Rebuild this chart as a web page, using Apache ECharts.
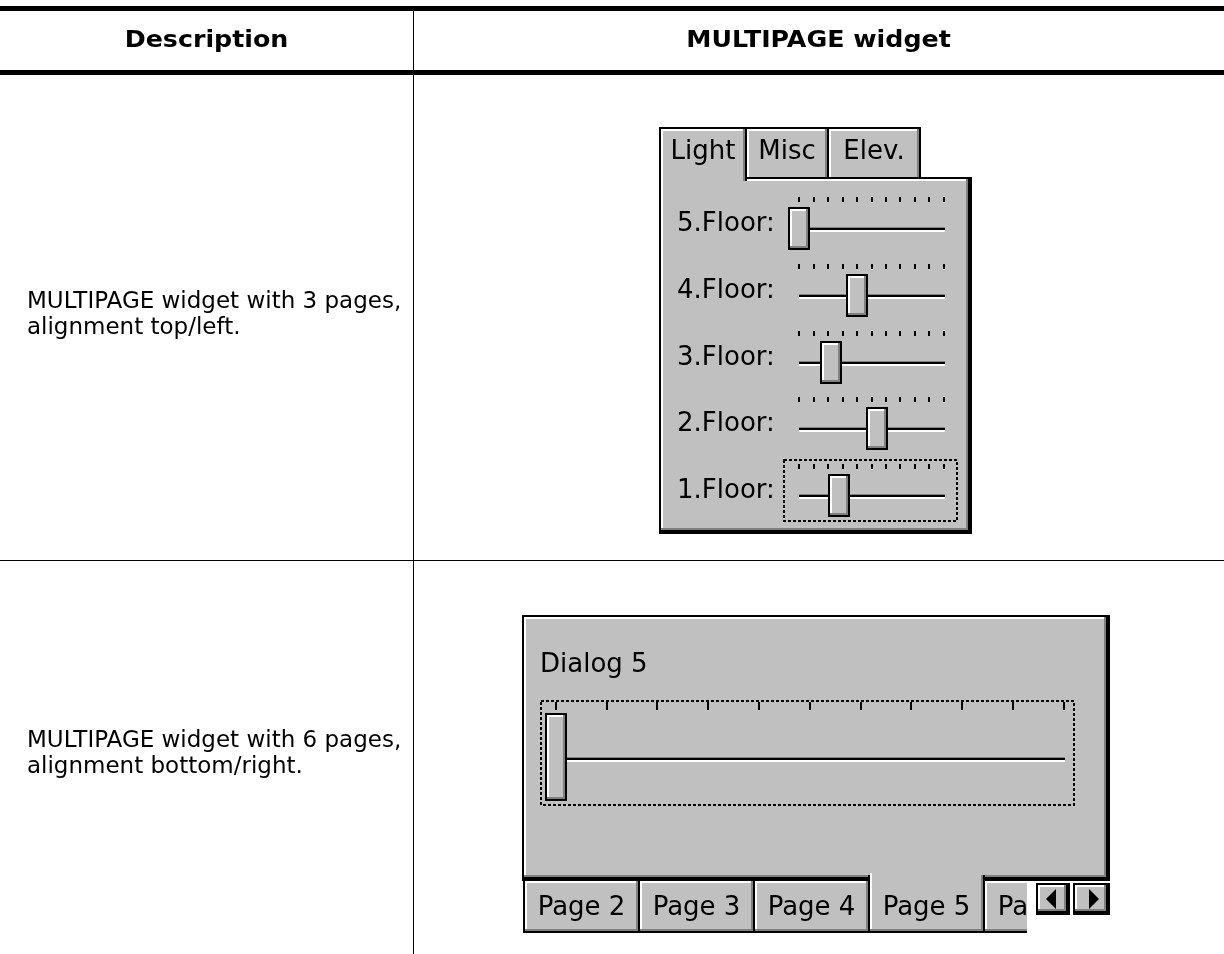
<!DOCTYPE html>
<html><head><meta charset="utf-8">
<script src="https://cdn.jsdelivr.net/npm/echarts@6/dist/echarts.min.js"></script>
<style>html,body{margin:0;padding:0;background:#fff}#c{width:1224px;height:954px}</style>
</head><body><div id="c"></div>
<script>
// ---- data ----
const headers = ['Description', 'MULTIPAGE widget'];
const descRow1 = ['MULTIPAGE widget with 3 pages,', 'alignment top/left.'];
const descRow2 = ['MULTIPAGE widget with 6 pages,', 'alignment bottom/right.'];
const topTabs = ['Light', 'Misc', 'Elev.'];
const topSelected = 0;
const floorLabels = ['5.Floor:', '4.Floor:', '3.Floor:', '2.Floor:', '1.Floor:'];
const floorValues = [0, 40, 22, 54, 28];
const bottomTabs = ['Page 2', 'Page 3', 'Page 4', 'Page 5', 'Page 6'];
const bottomSelected = 3;
const dialogTitle = 'Dialog 5';
const dialogValues = [0];

// ---- styles ----
const GRAY = '#c0c0c0', DARK = '#808080', WHITE = '#ffffff', BLACK = '#000000';
const FW = '26px "DejaVu Sans"';
const FD = '23px "DejaVu Sans"';
const FH = 'bold 23px "DejaVu Sans"';

let zc = 1;
const els = [];
function R(x, y, w, h, fill) { els.push({type: 'rect', silent: true, z: zc++, shape: {x, y, width: w, height: h}, style: {fill}}); }
// raised panel: black outline, white top/left, dark gray + extra black bottom/right
function P(x, y, w, h) { R(x, y, w, h, BLACK); R(x + 2, y + 2, w - 6, h - 6, DARK); R(x + 2, y + 2, w - 8, h - 8, WHITE); R(x + 4, y + 4, w - 10, h - 10, GRAY); }
// top tab (open at bottom)
function TT(x, y, w, h) { R(x, y, w, h, BLACK); R(x + 2, y + 2, w - 4, h - 2, DARK); R(x + 2, y + 2, w - 6, h - 2, WHITE); R(x + 4, y + 4, w - 8, h - 4, GRAY); }
// bottom tab (open at top)
function BT(x, y, w, h) { R(x, y, w, h, BLACK); R(x + 2, y, w - 4, h - 2, DARK); R(x + 2, y, w - 6, h - 4, WHITE); R(x + 4, y + 2, w - 8, h - 6, GRAY); }
function T(text, x, y, font, align, sx) {
  els.push({type: 'text', silent: true, z: zc++, x, y, scaleX: sx || 1,
    style: {text, x: 0, y: 0, font, fill: '#000', textAlign: align || 'left', textVerticalAlign: 'middle'}});
}
function POLY(points) { els.push({type: 'polygon', silent: true, z: zc++, shape: {points}, style: {fill: BLACK}}); }
function DOT(x, y, w, h) { els.push({type: 'rect', silent: true, z: 5000, shape: {x, y, width: w, height: h}, style: {fill: null, stroke: BLACK, lineWidth: 2, lineDash: [3, 2]}}); }

// ---- table ----
R(0, 6, 1224, 5, BLACK);
R(0, 70, 1224, 5, BLACK);
R(413, 11, 1, 943, BLACK);
R(0, 560, 1224, 1, BLACK);
T(headers[0], 206.5, 41, FH, 'center', 1.1);
T(headers[1], 818.5, 41, FH, 'center', 1.1);
T(descRow1[0], 27, 302, FD); T(descRow1[1], 27, 328, FD);
T(descRow2[0], 27, 741, FD); T(descRow2[1], 27, 767, FD);

// ---- widget 1 ----
const tabW1 = [88, 84, 94];
const tabX1 = [659];
for (let i = 1; i < topTabs.length; i++) tabX1.push(tabX1[i - 1] + tabW1[i - 1] - 2);
topTabs.forEach((name, i) => {
  if (i === topSelected) return;
  TT(tabX1[i], 127, tabW1[i], 54);
  T(name, tabX1[i] + tabW1[i] / 2, 152, FW, 'center');
});
P(659, 177, 313, 357);
{
  const x = tabX1[topSelected], w = tabW1[topSelected];
  TT(x, 127, w, 54);
  T(topTabs[topSelected], x + w / 2, 152, FW, 'center');
}
const rowT = floorLabels.map((_, i) => Math.round(230 + 66.75 * i));
floorLabels.forEach((lab, i) => T(lab, 677, rowT[i] - 6, FW));
DOT(784, 460, 173, 61);

// ---- widget 2 ----
P(522, 615, 588, 266);
T(dialogTitle, 540, 665, FW);
const tabW2 = 117, tabStep2 = 115;
bottomTabs.forEach((name, i) => {
  if (i === bottomSelected) return;
  const x = 523 + tabStep2 * i;
  BT(x, 881, tabW2, 52);
  T(name, x + tabW2 / 2, 908, FW, 'center');
});
R(1027, 881, 90, 60, WHITE);
P(1036, 883, 34, 32);
P(1073, 883, 37, 32);
POLY([[1046, 899], [1056, 889], [1056, 909]]);
POLY([[1099, 899], [1089, 889], [1089, 909]]);
{
  const x = 523 + tabStep2 * bottomSelected;
  BT(x, 875, tabW2, 58);
  R(x + 4, 873, tabW2 - 8, 10, GRAY);
  R(x + 2, 873, 2, 10, WHITE);
  T(bottomTabs[bottomSelected], x + tabW2 / 2, 908, FW, 'center');
}
DOT(541, 701, 533, 104);

// ---- sliders via grids/axes/custom series ----
function sliderRender(thumbW, thumbH, offY) {
  return function (params, api) {
    const p = api.coord([api.value(0), 0]);
    const a = api.coord([0, 0]), b = api.coord([100, 0]);
    const t = Math.round(p[1]);
    const x0 = Math.round(a[0]), x1 = Math.round(b[0]) + 1;
    const cx = Math.round(p[0]);
    const tx = cx - thumbW / 2, ty = t + offY;
    const r = (x, y, w, h, fill) => ({type: 'rect', shape: {x, y, width: w, height: h}, style: {fill}});
    return {type: 'group', children: [
      r(x0, t - 3, x1 - x0, 1, DARK),
      r(x0, t - 2, x1 - x0, 2, BLACK),
      r(x0, t, x1 - x0, 2, WHITE),
      r(tx, ty, thumbW, thumbH, BLACK),
      r(tx + 2, ty + 2, thumbW - 4, thumbH - 4, DARK),
      r(tx + 2, ty + 2, thumbW - 6, thumbH - 6, WHITE),
      r(tx + 4, ty + 4, thumbW - 8, thumbH - 8, GRAY)
    ]};
  };
}

const grids = [], xAxes = [], yAxes = [], series = [];
function addSlider(left, width, t, gap, tickLen, values, thumbW, thumbH, offY) {
  const gi = grids.length;
  grids.push({left, width, top: t - gap, height: gap, outerBoundsMode: 'none', show: false});
  xAxes.push({gridIndex: gi, type: 'value', min: 0, max: 100, interval: 10, position: 'top', z: 1000,
    axisLine: {show: false, onZero: false}, axisLabel: {show: false}, splitLine: {show: false},
    axisTick: {show: true, inside: false, length: tickLen, lineStyle: {color: BLACK, width: 2}}});
  yAxes.push({gridIndex: gi, type: 'value', min: 0, max: 1, show: false});
  series.push({type: 'custom', xAxisIndex: gi, yAxisIndex: gi, z: 1001, silent: true,
    data: values.map(v => [v, 0]), renderItem: sliderRender(thumbW, thumbH, offY)});
}
floorValues.forEach((v, i) => addSlider(799, 144.5, rowT[i], 28, 5, [v], 22, 43, -23));
addSlider(555.5, 508, 760, 50, 8, dialogValues, 22, 88, -47);

const chart = echarts.init(document.getElementById('c'), null, {renderer: 'canvas'});
chart.setOption({
  animation: false,
  backgroundColor: '#ffffff',
  grid: grids, xAxis: xAxes, yAxis: yAxes, series,
  graphic: {elements: els}
});
</script></body></html>
